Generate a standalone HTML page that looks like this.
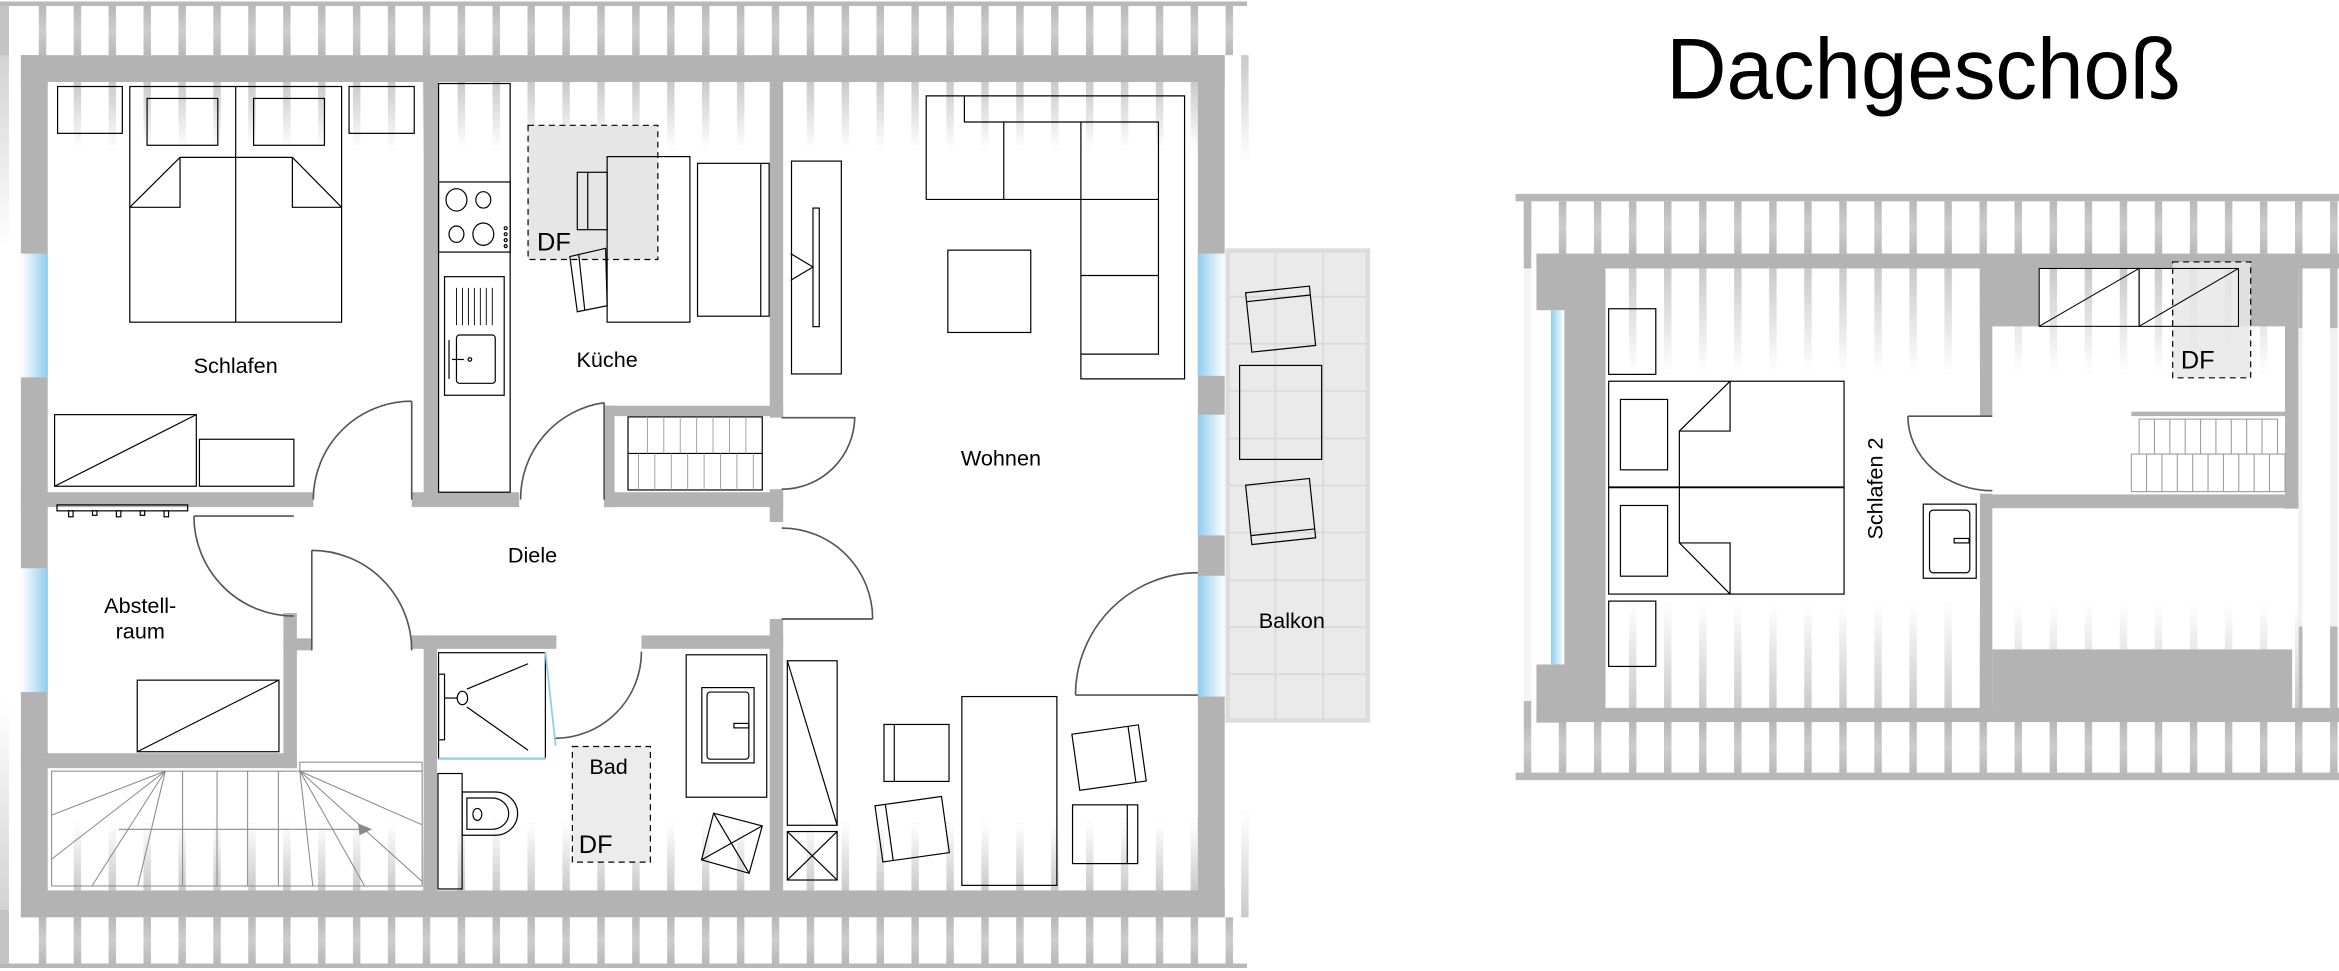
<!DOCTYPE html>
<html><head><meta charset="utf-8"><style>
html,body{margin:0;padding:0;background:#fff;width:2339px;height:971px;overflow:hidden}
svg{display:block}
text{font-family:"Liberation Sans",sans-serif;fill:#000}
</style></head><body>
<svg width="2339" height="971" viewBox="0 0 1568 651" preserveAspectRatio="none" xmlns="http://www.w3.org/2000/svg">
<defs>
<pattern id="pL" patternUnits="userSpaceOnUse" x="26" y="0" width="23.4" height="10"><rect x="0" y="0" width="5" height="10" fill="#b8b8b8"/></pattern>
<pattern id="pR" patternUnits="userSpaceOnUse" x="1021.5" y="0" width="23.5" height="10"><rect x="0" y="0" width="5" height="10" fill="#b8b8b8"/></pattern>
<linearGradient id="fadeDown" x1="0" y1="0" x2="0" y2="1"><stop offset="0" stop-color="#fff" stop-opacity="0.25"/><stop offset="1" stop-color="#fff" stop-opacity="1"/></linearGradient>
<linearGradient id="fadeUp" x1="0" y1="1" x2="0" y2="0"><stop offset="0" stop-color="#fff" stop-opacity="0.25"/><stop offset="1" stop-color="#fff" stop-opacity="1"/></linearGradient>
<linearGradient id="outTop" x1="0" y1="0" x2="0" y2="1"><stop offset="0" stop-color="#fff" stop-opacity="0"/><stop offset="0.5" stop-color="#fff" stop-opacity="0.3"/><stop offset="1" stop-color="#fff" stop-opacity="0"/></linearGradient>
<linearGradient id="winR" x1="0" y1="0" x2="1" y2="0"><stop offset="0" stop-color="#fff"/><stop offset="1" stop-color="#8fcdee"/></linearGradient>
<linearGradient id="winL" x1="0" y1="0" x2="1" y2="0"><stop offset="0" stop-color="#8fcdee"/><stop offset="1" stop-color="#fff"/></linearGradient>
</defs>

<!-- ===== LEFT PLAN STRIPES ===== -->
<rect x="0" y="1" width="836" height="3" fill="#b8b8b8"/>
<rect x="14" y="4" width="822" height="33" fill="url(#pL)"/>
<rect x="14" y="4" width="822" height="33" fill="url(#outTop)"/>
<rect x="32" y="55" width="771" height="45" fill="url(#pL)"/>
<rect x="32" y="55" width="771" height="45" fill="url(#fadeDown)"/>
<rect x="32" y="552" width="771" height="45" fill="url(#pL)"/>
<rect x="32" y="552" width="771" height="45" fill="url(#fadeUp)"/>
<rect x="14" y="615" width="822" height="31" fill="url(#pL)"/>
<rect x="14" y="615" width="822" height="31" fill="url(#outTop)"/>
<rect x="0" y="646" width="836" height="3" fill="#b8b8b8"/>
<rect x="832" y="37" width="5" height="70" fill="#b8b8b8"/>
<rect x="820" y="37" width="17" height="70" fill="url(#fadeDown)"/>
<rect x="832" y="545" width="5" height="70" fill="#b8b8b8"/>
<rect x="820" y="545" width="17" height="70" fill="url(#fadeUp)"/>
<rect x="0" y="4" width="6" height="160" fill="#c4c4c4"/>
<rect x="0" y="37" width="8" height="130" fill="url(#fadeDown)"/>
<rect x="0" y="470" width="6" height="176" fill="#c4c4c4"/>
<rect x="0" y="470" width="8" height="140" fill="url(#fadeUp)"/>

<!-- Balkon -->
<rect x="823" y="168" width="94" height="315" fill="#eaeaea" stroke="#dcdcdc" stroke-width="3"/>
<g stroke="#dadada" stroke-width="1.2">
<line x1="855" y1="168" x2="855" y2="483"/><line x1="887" y1="168" x2="887" y2="483"/>
<line x1="823" y1="199" x2="917" y2="199"/><line x1="823" y1="230.5" x2="917" y2="230.5"/>
<line x1="823" y1="262" x2="917" y2="262"/><line x1="823" y1="294" x2="917" y2="294"/>
<line x1="823" y1="325.5" x2="917" y2="325.5"/><line x1="823" y1="357" x2="917" y2="357"/>
<line x1="823" y1="389" x2="917" y2="389"/><line x1="823" y1="420.5" x2="917" y2="420.5"/>
<line x1="823" y1="452" x2="917" y2="452"/>
</g>

<!-- ===== LEFT PLAN WALLS ===== -->
<g fill="#b3b3b3">
<rect x="14" y="37" width="807" height="18"/>
<rect x="14" y="597" width="807" height="18"/>
<rect x="14" y="37" width="18" height="578"/>
<rect x="803" y="37" width="18" height="578"/>
<rect x="284" y="55" width="10" height="280"/>
<rect x="516" y="55" width="9" height="225"/>
<rect x="405" y="272" width="120" height="7"/>
<rect x="405" y="272" width="7" height="68"/>
<rect x="14" y="330" width="196" height="10"/>
<rect x="276" y="330" width="72" height="10"/>
<rect x="405" y="330" width="120" height="10"/>
<rect x="516" y="328" width="9" height="22"/>
<rect x="516" y="415" width="9" height="182"/>
<rect x="190" y="411" width="9" height="104"/>
<rect x="14" y="505" width="185" height="10"/>
<rect x="190" y="428" width="19" height="8"/>
<rect x="276" y="426" width="97" height="9"/>
<rect x="430" y="426" width="95" height="9"/>
<rect x="284" y="426" width="9" height="171"/>
</g>
<!-- windows -->
<rect x="14" y="170" width="18" height="83" fill="url(#winR)"/>
<rect x="14" y="381" width="18" height="83" fill="url(#winR)"/>
<rect x="803" y="170" width="18" height="82" fill="url(#winL)"/>
<rect x="803" y="278" width="18" height="81" fill="url(#winL)"/>
<rect x="803" y="386" width="18" height="81" fill="url(#winL)"/>

<!-- ===== LEFT PLAN FURNITURE ===== -->
<g fill="none" stroke="#000" stroke-width="0.8">
<!-- Schlafen -->
<rect x="38.6" y="58" width="43.4" height="31.4"/>
<rect x="234" y="58" width="43.7" height="31.4"/>
<rect x="87" y="58" width="142" height="158"/>
<line x1="158" y1="58" x2="158" y2="216"/>
<rect x="98.6" y="66" width="47.4" height="31.4"/>
<rect x="170" y="66" width="47.5" height="31.4"/>
<polyline points="87,139 120.7,105.5 196,105.5 229,139"/>
<polyline points="87,139 120.7,139 120.7,105.5"/>
<polyline points="229,139 196,139 196,105.5"/>
<rect x="36.6" y="278" width="95" height="48"/>
<line x1="36.6" y1="326" x2="131.6" y2="278"/>
<rect x="133.7" y="294.5" width="63.3" height="31.5"/>
<!-- Kitchen -->
<rect x="294" y="56" width="48" height="274"/>
<rect x="294" y="122" width="48" height="47"/>
<ellipse cx="306" cy="134" rx="7" ry="7.5"/><ellipse cx="324" cy="134" rx="5" ry="5.5"/>
<ellipse cx="306" cy="157" rx="5" ry="5.5"/><ellipse cx="324" cy="157" rx="7" ry="7.5"/>
<circle cx="339" cy="153" r="1"/><circle cx="339" cy="157" r="1"/><circle cx="339" cy="161" r="1"/><circle cx="339" cy="165" r="1"/>
<rect x="298" y="185.5" width="40" height="79.5"/>
<rect x="306" y="224.6" width="26" height="32.4" rx="2"/>
<line x1="301" y1="228" x2="301" y2="254"/><line x1="303" y1="241" x2="311" y2="241"/><circle cx="315" cy="241" r="1.2"/>
<g stroke-width="0.6"><line x1="306" y1="193" x2="306" y2="218"/><line x1="310" y1="193" x2="310" y2="218"/><line x1="314" y1="193" x2="314" y2="218"/><line x1="318" y1="193" x2="318" y2="218"/><line x1="322" y1="193" x2="322" y2="218"/><line x1="326" y1="193" x2="326" y2="218"/><line x1="330" y1="193" x2="330" y2="218"/></g>
</g>
<rect x="354" y="84" width="87" height="90" fill="#e6e6e6" stroke="#000" stroke-width="0.8" stroke-dasharray="4,3"/>
<g fill="none" stroke="#000" stroke-width="0.8">
<rect x="407" y="105" width="55.5" height="111"/>
<rect x="387" y="115.5" width="20" height="38.5"/>
<line x1="394" y1="115.5" x2="394" y2="154"/>
<polygon points="382,172 406,166.5 407,205 387,209"/>
<line x1="388" y1="171" x2="392" y2="208"/>
<rect x="467.6" y="109.5" width="48" height="102.5"/>
<line x1="510" y1="109.5" x2="510" y2="212"/>
<!-- closet stairs -->
<rect x="421" y="279.5" width="90" height="49"/>
<line x1="421" y1="304" x2="511" y2="304"/>
<g stroke="#999" stroke-width="0.6">
<line x1="434" y1="279.5" x2="434" y2="304"/><line x1="445" y1="279.5" x2="445" y2="304"/><line x1="456" y1="279.5" x2="456" y2="304"/><line x1="467" y1="279.5" x2="467" y2="304"/><line x1="478" y1="279.5" x2="478" y2="304"/><line x1="489" y1="279.5" x2="489" y2="304"/><line x1="500" y1="279.5" x2="500" y2="304"/>
<line x1="428" y1="304" x2="428" y2="328.5"/><line x1="439" y1="304" x2="439" y2="328.5"/><line x1="450" y1="304" x2="450" y2="328.5"/><line x1="461" y1="304" x2="461" y2="328.5"/><line x1="472" y1="304" x2="472" y2="328.5"/><line x1="483" y1="304" x2="483" y2="328.5"/><line x1="494" y1="304" x2="494" y2="328.5"/><line x1="505" y1="304" x2="505" y2="328.5"/>
</g>
<!-- coat rack -->
<rect x="38.2" y="338.5" width="87.6" height="4"/>
<rect x="46" y="342.5" width="3" height="4"/><rect x="62" y="342.5" width="3" height="3"/><rect x="78" y="342.5" width="3" height="4"/><rect x="94" y="342.5" width="3" height="3"/><rect x="110" y="342.5" width="3" height="4"/>
<!-- abstell -->
<rect x="92" y="456" width="95" height="48"/>
<line x1="92" y1="504" x2="187" y2="456"/>
<!-- stairs -->
<g stroke="#8a8a8a" stroke-width="0.7">
<rect x="34.6" y="517" width="248.4" height="77"/>
<rect x="201" y="511" width="82" height="6"/>
<line x1="110.8" y1="517" x2="34.6" y2="546.5"/><line x1="110.8" y1="517" x2="34.6" y2="576"/><line x1="110.8" y1="517" x2="61.6" y2="594"/><line x1="110.8" y1="517" x2="92.4" y2="594"/>
<line x1="122.4" y1="517" x2="122.4" y2="594"/><line x1="145.5" y1="517" x2="145.5" y2="594"/><line x1="166" y1="517" x2="166" y2="594"/><line x1="186.6" y1="517" x2="186.6" y2="594"/>
<line x1="201" y1="517" x2="209.7" y2="594"/><line x1="201" y1="517" x2="244.4" y2="594"/><line x1="201" y1="517" x2="283" y2="591"/><line x1="201" y1="517" x2="283" y2="553"/>
<line x1="79.7" y1="556" x2="246" y2="556"/>
</g>
<polygon points="249.5,556 240,552 241,560" fill="#8a8a8a" stroke="none"/>
<!-- Bad -->
<rect x="294" y="437.6" width="71.6" height="71"/>
<line x1="365.6" y1="437" x2="372.5" y2="500" stroke="#8fcdee" stroke-width="1.2"/>
<line x1="294" y1="508.6" x2="366" y2="508.6" stroke="#8fcdee" stroke-width="1.5"/>
<rect x="294" y="452" width="4" height="44"/>
<ellipse cx="310" cy="468" rx="3.5" ry="4.5"/><line x1="298" y1="468" x2="306.5" y2="468"/>
<line x1="313" y1="462" x2="354" y2="445"/><line x1="313" y1="474" x2="354" y2="503"/>
<rect x="293.6" y="518.6" width="16.2" height="77.4"/>
<path d="M309.8,531 H332 A15,14.5 0 0 1 332,560 H309.8 Z"/>
<path d="M313,535 H330 A11,10.5 0 0 1 330,556 H313 Z"/>
<ellipse cx="320" cy="546" rx="3" ry="4"/>
</g>
<rect x="383.7" y="500.5" width="52.3" height="77.5" fill="#ececec" stroke="#000" stroke-width="0.8" stroke-dasharray="4,3"/>
<g fill="none" stroke="#000" stroke-width="0.8">
<rect x="460" y="439" width="54" height="95.5"/>
<rect x="470.5" y="461" width="35" height="50.5"/>
<rect x="474" y="464" width="28" height="45" rx="2"/>
<rect x="492" y="485" width="10" height="3"/>
<polygon points="478.4,545.2 511,553.7 502.2,585.5 470.3,576.5"/>
<line x1="478.4" y1="545.2" x2="502.2" y2="585.5"/><line x1="511" y1="553.7" x2="470.3" y2="576.5"/>
<!-- Wohnen -->
<polygon points="620.9,64.3 794.1,64.3 794.1,254 724.6,254 724.6,133.7 620.9,133.7"/>
<polyline points="646.5,64.3 646.5,81.8 776.6,81.8 776.6,237.4 724.6,237.4"/>
<line x1="672.9" y1="81.8" x2="672.9" y2="133.7"/><line x1="724.6" y1="81.8" x2="724.6" y2="133.7"/>
<line x1="724.6" y1="133.7" x2="776.6" y2="133.7"/><line x1="724.6" y1="184.7" x2="776.6" y2="184.7"/>
<rect x="635.4" y="167.7" width="55.6" height="55.2"/>
<rect x="530.6" y="108" width="33.4" height="142.7"/>
<rect x="545" y="139.5" width="4.2" height="79.5"/>
<polyline points="530,170 545,179 530,188"/>
<rect x="644.8" y="467" width="63.7" height="126.6"/>
<rect x="592.6" y="485.7" width="43.6" height="38.2"/><line x1="599.5" y1="485.7" x2="599.5" y2="523.9"/>
<g transform="rotate(-8 611 556)"><rect x="589" y="537" width="45" height="38"/><line x1="596" y1="537" x2="596" y2="575"/></g>
<g transform="rotate(-8 743 508)"><rect x="721" y="489" width="45" height="38"/><line x1="759" y1="489" x2="759" y2="527"/></g>
<rect x="719" y="539.6" width="43.7" height="39.4"/><line x1="755.7" y1="539.6" x2="755.7" y2="579"/>
<rect x="527.8" y="443" width="33.4" height="110.3"/>
<line x1="527.8" y1="443" x2="561.2" y2="553.3"/>
<rect x="527.8" y="557.5" width="33.4" height="32.5"/>
<line x1="527.8" y1="557.5" x2="561.2" y2="590"/><line x1="561.2" y1="557.5" x2="527.8" y2="590"/>
<!-- Balkon furniture -->
<g transform="rotate(-6 858 214)"><rect x="837" y="194" width="43" height="40"/><line x1="837" y1="200" x2="880" y2="200"/></g>
<rect x="831" y="245" width="55" height="63"/>
<g transform="rotate(-6 858 343)"><rect x="837" y="323" width="43" height="40"/><line x1="837" y1="357" x2="880" y2="357"/></g>
</g>
<!-- doors -->
<g fill="none" stroke="#555" stroke-width="1.1">
<path d="M276,269 V335 M276,269 A66,66 0 0 0 210,335"/>
<path d="M405,270 V335 M405,270 A65,65 0 0 0 349,335"/>
<path d="M524,280 H573 A49,49 0 0 1 524,328"/>
<path d="M524,415 H585 M524,354 A61,61 0 0 1 585,415"/>
<path d="M721,466 H803 M721,466 A82,82 0 0 1 803,384"/>
<path d="M130,346 H197 M130,346 A67,67 0 0 0 197,413"/>
<path d="M209,369 V436 M209,369 A67,67 0 0 1 276,436"/>
<path d="M372.5,495 A58,58 0 0 0 430,437"/>
</g>

<!-- labels left -->
<g font-size="14.5">
<text x="158" y="250" text-anchor="middle">Schlafen</text>
<text x="407" y="246" text-anchor="middle">Küche</text>
<text x="671" y="312" text-anchor="middle">Wohnen</text>
<text x="357" y="377" text-anchor="middle">Diele</text>
<text x="94" y="411" text-anchor="middle">Abstell-</text>
<text x="94" y="428" text-anchor="middle">raum</text>
<text x="866" y="421" text-anchor="middle">Balkon</text>
<text x="408" y="519" text-anchor="middle">Bad</text>
</g>
<text x="360" y="168" font-size="17">DF</text>
<text x="388" y="572" font-size="17">DF</text>

<!-- ===== RIGHT PLAN ===== -->
<text x="1117" y="66" font-size="58" textLength="345" lengthAdjust="spacingAndGlyphs">Dachgeschoß</text>

<rect x="1016" y="130" width="552" height="5" fill="#b8b8b8"/>
<rect x="1016" y="135" width="552" height="35" fill="url(#pR)"/>
<rect x="1016" y="135" width="552" height="35" fill="url(#outTop)"/>
<rect x="1016" y="484" width="552" height="34" fill="url(#pR)"/>
<rect x="1016" y="484" width="552" height="34" fill="url(#outTop)"/>
<rect x="1016" y="518" width="552" height="5" fill="#b8b8b8"/>
<rect x="1016" y="135" width="14" height="349" fill="url(#pR)"/>
<rect x="1010" y="180" width="20" height="290" fill="#fff" opacity="0.85"/>
<rect x="1076" y="180" width="492" height="70" fill="url(#pR)"/>
<rect x="1076" y="180" width="492" height="70" fill="url(#fadeDown)"/>
<rect x="1076" y="405" width="492" height="70" fill="url(#pR)"/>
<rect x="1076" y="405" width="492" height="70" fill="url(#fadeUp)"/>
<rect x="1541" y="180" width="27" height="295" fill="url(#pR)"/>
<rect x="1541" y="220" width="27" height="200" fill="#fff" opacity="0.8"/>

<g fill="#b3b3b3">
<rect x="1030" y="170" width="538" height="10"/>
<rect x="1030" y="170" width="19" height="38"/>
<rect x="1030" y="445.5" width="19" height="39"/>
<rect x="1048.6" y="180" width="27.7" height="295"/>
<rect x="1030" y="474.6" width="538" height="9.5"/>
<rect x="1327.3" y="180" width="8.3" height="295"/>
<rect x="1327.3" y="180" width="40" height="38.8"/>
<rect x="1500.6" y="180" width="40" height="38.8"/>
<rect x="1531.8" y="180" width="8.9" height="161"/>
<rect x="1335" y="331.5" width="205.7" height="9.2"/>
<rect x="1335.6" y="435.4" width="201" height="40"/>
<rect x="1428.8" y="276" width="103" height="3"/>
</g>
<rect x="1327" y="279" width="9" height="52" fill="#fff"/>
<rect x="1039.7" y="208" width="9" height="237.5" fill="url(#winL)"/>
<rect x="1456.5" y="175.6" width="52.3" height="77.7" fill="#e8e8e8" fill-opacity="0.85" stroke="#000" stroke-width="0.8" stroke-dasharray="4,3"/>
<g fill="none" stroke="#000" stroke-width="0.7">
<rect x="1367" y="180" width="67" height="38.8"/><line x1="1367" y1="218.8" x2="1434" y2="180"/>
<rect x="1434" y="180" width="66.6" height="38.8"/><line x1="1434" y1="218.8" x2="1500.6" y2="180"/>
</g>
<g fill="none" stroke="#999" stroke-width="0.7">
<rect x="1434" y="281" width="92.8" height="23.4"/>
<rect x="1428.8" y="304.4" width="103" height="25.2"/>
<line x1="1444.3" y1="281" x2="1444.3" y2="304.4"/><line x1="1454.6" y1="281" x2="1454.6" y2="304.4"/><line x1="1464.9" y1="281" x2="1464.9" y2="304.4"/><line x1="1475.2" y1="281" x2="1475.2" y2="304.4"/><line x1="1485.5" y1="281" x2="1485.5" y2="304.4"/><line x1="1495.8" y1="281" x2="1495.8" y2="304.4"/><line x1="1506.1" y1="281" x2="1506.1" y2="304.4"/><line x1="1516.4" y1="281" x2="1516.4" y2="304.4"/>
<line x1="1439" y1="304.4" x2="1439" y2="329.6"/><line x1="1449.3" y1="304.4" x2="1449.3" y2="329.6"/><line x1="1459.6" y1="304.4" x2="1459.6" y2="329.6"/><line x1="1469.9" y1="304.4" x2="1469.9" y2="329.6"/><line x1="1480.2" y1="304.4" x2="1480.2" y2="329.6"/><line x1="1490.5" y1="304.4" x2="1490.5" y2="329.6"/><line x1="1500.8" y1="304.4" x2="1500.8" y2="329.6"/><line x1="1511.1" y1="304.4" x2="1511.1" y2="329.6"/><line x1="1521.4" y1="304.4" x2="1521.4" y2="329.6"/>
</g>
<path d="M1279,279 H1335.6 M1279,279 A56.6,50 0 0 0 1335.6,329" fill="none" stroke="#555" stroke-width="1.1"/>
<g fill="none" stroke="#000" stroke-width="0.8">
<rect x="1078.4" y="255.6" width="157.8" height="142.7"/>
<line x1="1078.4" y1="326.7" x2="1236.2" y2="326.7" stroke-width="1.3"/>
<rect x="1086.3" y="267.8" width="31.6" height="47.2"/>
<rect x="1086.3" y="338.9" width="31.6" height="47.4"/>
<polyline points="1159.8,255.6 1125.8,289 1125.8,364 1159.8,398.3"/>
<polyline points="1159.8,255.6 1159.8,289 1125.8,289"/>
<polyline points="1125.8,364 1159.8,364 1159.8,398.3"/>
<rect x="1078.4" y="207" width="31.6" height="44"/>
<rect x="1078.4" y="403" width="31.6" height="43.8"/>
<rect x="1289.3" y="338" width="35.5" height="49.7"/>
<rect x="1293.5" y="342" width="27" height="42" rx="2.5"/>
<rect x="1310" y="361" width="10" height="3"/>
</g>
<text x="0" y="0" font-size="14.5" text-anchor="middle" transform="translate(1262,327.5) rotate(-90)">Schlafen 2</text>
<text x="1462" y="247" font-size="17">DF</text>
</svg>
</body></html>
